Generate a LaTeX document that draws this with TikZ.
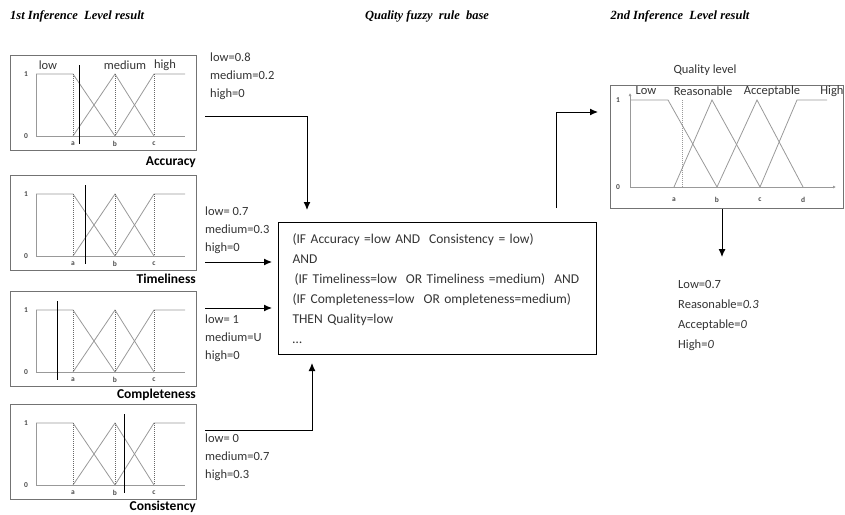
\documentclass[tikz,border=0pt]{standalone}
\usepackage{fontspec}
\setmainfont{Liberation Serif}
\setsansfont{Carlito}
\usetikzlibrary{arrows.meta,positioning}

\begin{document}
\begin{tikzpicture}[x=1pt,y=-1pt]
    \tikzstyle{frame}=[draw=black!55,line width=1pt,inner sep=0pt,anchor=north west]
    \tikzstyle{mf}=[draw=black!40,line width=0.8pt]
    \tikzstyle{cut}=[draw=black!60,densely dotted,line width=1pt]
    \tikzstyle{tick}=[font=\sffamily\bfseries\fontsize{7.5}{8}\selectfont,text=black!70,inner sep=0pt]
    \tikzstyle{lab}=[font=\sffamily\fontsize{12.5}{14}\selectfont,text=black!80,inner sep=0pt]
    \tikzstyle{vals}=[font=\sffamily\fontsize{12.5}{18}\selectfont,text=black!80,align=left,inner sep=0pt,anchor=north west]
    \tikzstyle{title}=[font=\bfseries\itshape\fontsize{12.5}{14}\selectfont,inner sep=0pt]
    \tikzstyle{conn}=[-{Latex[length=8pt,width=7pt]},line width=1pt]
    \useasboundingbox (0,0) rectangle (845,514);

    \node[title,anchor=west] (t1) at (10,16) {1st Inference~ Level result};
    \node[title] (t2) at (427,16) {Quality fuzzy~ rule~ base};
    \node[title] (t3) at (680,16) {2nd Inference~ Level result};

    \foreach \y/\m/\ly/\name/\lbl in {55/69/107/acc/Accuracy,175/75/104/tim/Timeliness,291/47/104/com/Completeness,404/114/103/con/Consistency}{
      \begin{scope}[shift={(10,\y)}]
        \node[frame,minimum width=186pt,minimum height=95pt] (chart-\name) at (0,0) {};
        \node[tick] at (16,19) {1};
        \node[tick] at (16,81) {0};
        \draw[mf] (26,19) -- (26,81) -- (175,81);
        \draw[mf] (26,19) -- (63,19) -- (105,81);
        \draw[mf] (63,81) -- (105,19) -- (144,81);
        \draw[mf] (105,81) -- (144,19) -- (175,19);
        \foreach \x/\p in {63/a,105/b,144/c}{
          \draw[cut] (\x,19) -- (\x,81);
          \node[tick] at (\x,89) {\p};
        }
        \draw[line width=1pt] (\m,10) -- (\m,89);
        \node[font=\sffamily\bfseries\fontsize{13.5}{15}\selectfont,anchor=east,inner sep=0pt] (lbl-\name) at (186,\ly) {\lbl};
      \end{scope}
    }
    \node[lab] (low) at (48,65) {low};
    \node[lab] (med) at (125,65) {medium};
    \node[lab] (high) at (165,65) {high};

    \node[vals] (acc-vals) at (210,53) {low=0.8\\medium=0.2\\high=0};
    \node[vals] (tim-vals) at (205,207) {low= 0.7\\medium=0.3\\high=0};
    \node[vals] (com-vals) at (205,315) {low= 1\\medium=U\\high=0};
    \node[vals] (con-vals) at (205,434) {low= 0\\medium=0.7\\high=0.3};

    \node[draw,line width=1pt,anchor=north west,minimum width=318pt,minimum height=132pt,inner xsep=14pt,inner ysep=0pt,align=left,text width=290pt,font=\sffamily\fontsize{13.5}{20}\selectfont,text=black!80] (rules) at (278,222)
      {(IF Accuracy =low AND~ Consistency = low)\\
       AND\\
       \hspace{2pt}(IF Timeliness=low~ OR Timeliness =medium)~ AND\\
       (IF Completeness=low~ OR ompleteness=medium)\\
       THEN Quality=low\\
       \dots};

    \coordinate (acc-out) at (205,116);
    \coordinate (tim-out) at (205,262);
    \coordinate (com-out) at (205,308);
    \coordinate (con-out) at (205,430);
    \draw[conn] (acc-out) -| ([xshift=29pt,yshift=12pt]rules.north west);
    \draw[conn,shorten >=6pt] (tim-out) -- (tim-out -| rules.west);
    \draw[conn,shorten >=6pt] (com-out) -- (com-out -| rules.west);
    \draw[conn] (con-out) -| ([xshift=34pt,yshift=-8pt]rules.south west);

    % quality level chart
    \node[frame,minimum width=233pt,minimum height=123pt] (qchart) at (610,85) {};
    \node[lab] (qtitle) at (705,70) {Quality level};
    \node[tick] at (618,100) {1};
    \node[tick] at (618,187) {0};
    \draw[mf,-{Latex[length=3pt,width=3pt]}] (630,187) -- (630,93);
    \draw[mf,-{Latex[length=3pt,width=3pt]}] (630,187) -- (836,187);
    \draw[mf] (630,100) -- (668,100) -- (717,187);
    \draw[mf] (674,187) -- (712,100) -- (760,187);
    \draw[mf] (717,187) -- (757,100) -- (803,187);
    \draw[mf] (760,187) -- (797,100) -- (827,100);
    \draw[cut,draw=black!40] (682,100) -- (682,187);
    \foreach \x/\p in {674/a,717/b,760/c,803/d}
      \node[tick] at (\x,200) {\p};
    \node[lab] (q-low) at (646,91) {Low};
    \node[lab] (q-rea) at (703,91) {Reasonable};
    \node[lab] (q-acc) at (772,91) {Acceptable};
    \node[lab] (q-high) at (832,91) {High};

    \draw[conn] ([xshift=278pt,yshift=14pt]rules.north west) |- ([xshift=-12pt,yshift=-27pt]qchart.north west);
    \coordinate (qres-in) at (722,257);
    \draw[conn] ([xshift=112pt]qchart.south west) -- (qres-in);
    \node[vals,font=\sffamily\fontsize{12.5}{20}\selectfont] (qres) at (678,280)
      {Low=0.7\\Reasonable=\textit{0.3}\\Acceptable=\textit{0}\\High=\textit{0}};
\end{tikzpicture}
\end{document}
